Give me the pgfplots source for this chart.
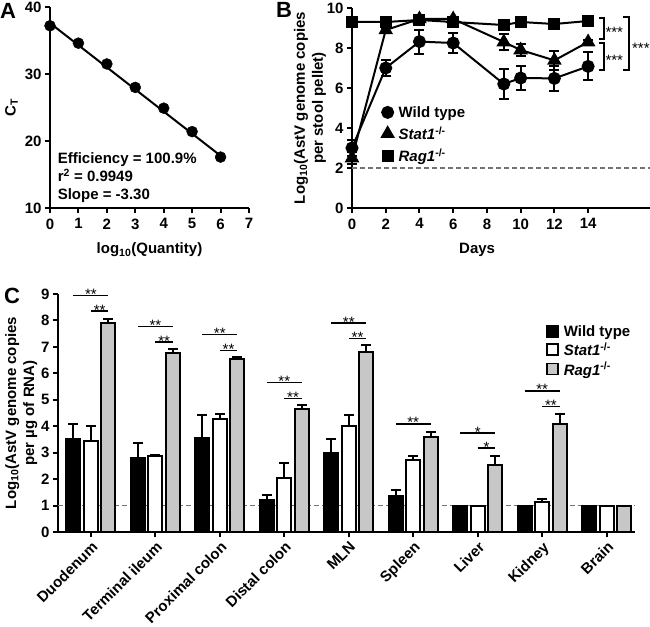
\documentclass[border=0pt]{standalone}
\usepackage{fontspec}
\setmainfont{Liberation Sans}
\usepackage{pgfplots}
\pgfplotsset{compat=1.18}

\newcommand{\lbl}{\fontsize{15}{18}\selectfont\bfseries}
\newcommand{\stars}{\fontsize{15}{15}\selectfont}
\newcommand{\ko}{\textsuperscript{-/-}}

\tikzset{lod/.style={black!55, line width=1.5pt, dash pattern=on 5pt off 3pt}}

\pgfplotsset{
  panel/.style={
    scale only axis, clip=false,
    axis x line*=bottom, axis y line*=left,
    axis line style={-, line width=2pt, black},
    x axis line style={-}, y axis line style={-},
    tick align=outside, major tick length=5pt,
    tick style={line width=2pt, black},
    tick label style={font=\lbl},
    xticklabel style={yshift=-2pt},
    label style={font=\lbl, align=center},
    xlabel style={yshift=-7pt},
    /pgf/number format/assume math mode=true,
    legend cell align=left,
  },
  ebar/.style={
    error bars/y dir=plus, error bars/y explicit,
    error bars/error bar style={line width=2pt, black},
    error bars/error mark options={rotate=90, mark size=5pt, line width=2pt, black}},
  ebar2/.style={
    error bars/y dir=both, error bars/y explicit,
    error bars/error bar style={line width=2pt, black},
    error bars/error mark options={rotate=90, mark size=5pt, line width=2pt, black}},
  cbar/.style={ybar, bar width=14pt, bar shift=0pt, draw=black, line width=2pt, ebar},
}

% significance line: x1, x2, y, label
\newcommand{\sig}[4]{%
  \draw[line width=1.5pt] (axis cs:#1,#3) -- (axis cs:#2,#3);
  \node[anchor=base, yshift=-4pt, font=\stars, inner sep=0pt] at (axis cs:{(#1+#2)/2},#3) {#4};}

\begin{document}
\begin{tikzpicture}
\useasboundingbox (0,0) rectangle (650pt,-626pt);

\node[anchor=north west, font=\fontsize{22}{22}\selectfont\bfseries, inner sep=0pt] at (0pt,-3pt) {A};
\node[anchor=north west, font=\fontsize{22}{22}\selectfont\bfseries, inner sep=0pt] at (276pt,-2pt) {B};
\node[anchor=north west, font=\fontsize{22}{22}\selectfont\bfseries, inner sep=0pt] at (4pt,-288pt) {C};

% ---------- A: standard curve
\begin{axis}[panel, at={(50pt,-208pt)}, anchor=south west,
  width=199pt, height=201pt,
  xmin=0, xmax=7, ymin=10, ymax=40,
  xtick={0,...,7}, ytick={10,20,30,40},
  xlabel={log\textsubscript{10}(Quantity)},
  ylabel={C\textsubscript{T}}]
\addplot[black, line width=2pt] coordinates {(0,37.6) (6,17.8)};
\addplot[only marks, mark=*, mark size=5.5pt, black] coordinates {
  (0,37.2) (1,34.6) (2,31.5) (3,28.0) (4,24.9) (5,21.4) (6,17.6)};
\node[anchor=west, font=\lbl, align=left] at (axis cs:0.15,14.5)
  {Efficiency = 100.9\%\\r\textsuperscript{2} = 0.9949\\Slope = -3.30};
\end{axis}

% ---------- B: stool shedding
\begin{axis}[panel, at={(352pt,-208pt)}, anchor=south west,
  width=298pt, height=200pt,
  xmin=0, xmax=17.67, ymin=0, ymax=10,
  xtick={0,2,...,14}, ytick={0,2,...,10},
  xlabel={Days}, xlabel style={at={(ticklabel cs:0.42)}},
  ylabel={Log\textsubscript{10}(AstV genome copies\\per stool pellet)},
  ylabel style={yshift=-6pt},
  legend style={at={(0.09,0.53)}, anchor=north west, draw=none, fill=none,
    font=\lbl, row sep=4pt},
  legend image code/.code={\path[draw=none, fill=none] (0pt,0pt) -- (14pt,0pt);
    \draw[#1] plot[only marks] coordinates {(5pt,0pt)};}]
\draw[lod] (axis cs:0,2) -- (axis cs:17.67,2);
\addplot[black, line width=2pt, mark=*, mark size=5.5pt, ebar2] coordinates {
  (0,3.0) +- (0,0.4) (2,7.0) +- (0,0.42) (4,8.32) +- (0,0.6) (6,8.25) +- (0,0.48)
  (9,6.2) +- (0,0.75) (10,6.5) +- (0,0.58) (12,6.48) +- (0,0.62) (14,7.08) +- (0,0.7)};
\addplot[black, line width=2pt, mark=triangle*, mark size=6.5pt, ebar2] coordinates {
  (0,2.5) +- (0,0.3) (2,8.9) +- (0,0.1) (4,9.45) +- (0,0.05) (6,9.45) +- (0,0.05)
  (9,8.3) +- (0,0.38) (10,7.9) +- (0,0.3) (12,7.38) +- (0,0.48) (14,8.3) +- (0,0.1)};
\addplot[black, line width=2pt, mark=square*, mark size=5pt, ebar2] coordinates {
  (0,9.3) +- (0,0.05) (2,9.3) +- (0,0.05) (4,9.4) +- (0,0.05) (6,9.3) +- (0,0.05)
  (9,9.15) +- (0,0.05) (10,9.3) +- (0,0.05) (12,9.2) +- (0,0.05) (14,9.35) +- (0,0.05)};
\legend{Wild type, \textit{Stat1}\ko, \textit{Rag1}\ko}
\draw[line width=1.5pt] (axis cs:14.65,9.5) -- (axis cs:14.95,9.5) -- (axis cs:14.95,8.45) -- (axis cs:14.65,8.45);
\draw[line width=1.5pt] (axis cs:14.65,8.25) -- (axis cs:14.95,8.25) -- (axis cs:14.95,6.9) -- (axis cs:14.65,6.9);
\draw[line width=1.5pt] (axis cs:16.07,9.55) -- (axis cs:16.43,9.55) -- (axis cs:16.43,6.9) -- (axis cs:16.07,6.9);
\node[anchor=west, font=\stars, inner sep=0pt] at (axis cs:15.02,8.8) {***};
\node[anchor=west, font=\stars, inner sep=0pt] at (axis cs:15.02,7.4) {***};
\node[anchor=west, font=\stars, inner sep=0pt] at (axis cs:16.6,8.0) {***};
\end{axis}

% ---------- C: tissues
\begin{axis}[panel, at={(58pt,-532pt)}, anchor=south west,
  width=577pt, height=238pt,
  xmin=-0.51, xmax=8.44, ymin=0, ymax=9,
  xtick={0,...,8}, ytick={0,...,9},
  xticklabels={Duodenum, Terminal ileum, Proximal colon, Distal colon, MLN, Spleen, Liver, Kidney, Brain},
  xticklabel style={rotate=45, anchor=north east, inner sep=1pt},
  ylabel={Log\textsubscript{10}(AstV genome copies\\per µg of RNA)},
  ylabel style={yshift=-3pt},
  legend style={at={(0.84,0.885)}, anchor=north west, draw=none, fill=none,
    font=\lbl, row sep=1pt},
  legend image code/.code={\draw[#1, line width=1.8pt] (0pt,-5pt) rectangle (11pt,6pt);
    \path[draw=none, fill=none] (0pt,0pt) -- (15pt,0pt);}]
\draw[lod] (axis cs:-0.51,1) -- (axis cs:8.44,1);
\addplot[fill=black, cbar] coordinates {
  (-0.2713,3.5) +- (0,0.6) (0.7287,2.78) +- (0,0.6) (1.7287,3.57) +- (0,0.86)
  (2.7287,1.2) +- (0,0.2) (3.7287,2.98) +- (0,0.53) (4.7287,1.36) +- (0,0.23)
  (5.7287,1.0) +- (0,0) (6.7287,1.0) +- (0,0) (7.7287,1.0) +- (0,0)};
\addplot[fill=white, cbar] coordinates {
  (0,3.45) +- (0,0.55) (1,2.87) +- (0,0.05) (2,4.27) +- (0,0.21) (3,2.05) +- (0,0.57)
  (4,3.99) +- (0,0.44) (5,2.73) +- (0,0.15) (6,0.97) +- (0,0) (7,1.12) +- (0,0.14) (8,0.97) +- (0,0)};
\addplot[fill=black!22, cbar] coordinates {
  (0.2713,7.9) +- (0,0.15) (1.2713,6.77) +- (0,0.15) (2.2713,6.55) +- (0,0.05)
  (3.2713,4.67) +- (0,0.13) (4.2713,6.8) +- (0,0.26) (5.2713,3.59) +- (0,0.21)
  (6.2713,2.54) +- (0,0.34) (7.2713,4.1) +- (0,0.37) (8.2713,0.97) +- (0,0)};
\legend{Wild type, \textit{Stat1}\ko, \textit{Rag1}\ko}
\sig{-0.2713}{0.2713}{8.94}{**}  \sig{0}{0.2713}{8.35}{**}
\sig{0.7287}{1.2713}{7.78}{**}   \sig{1}{1.2713}{7.18}{**}
\sig{1.7287}{2.2713}{7.46}{**}   \sig{2}{2.2713}{6.87}{**}
\sig{2.7287}{3.2713}{5.66}{**}   \sig{3}{3.2713}{5.05}{**}
\sig{3.7287}{4.2713}{7.9}{**}    \sig{4}{4.2713}{7.31}{**}
\sig{4.7287}{5.2713}{4.09}{**}
\sig{5.7287}{6.2713}{3.74}{*}    \sig{6}{6.2713}{3.17}{*}
\sig{6.7287}{7.2713}{5.34}{**}   \sig{7}{7.2713}{4.75}{**}
\end{axis}
\end{tikzpicture}
\end{document}
